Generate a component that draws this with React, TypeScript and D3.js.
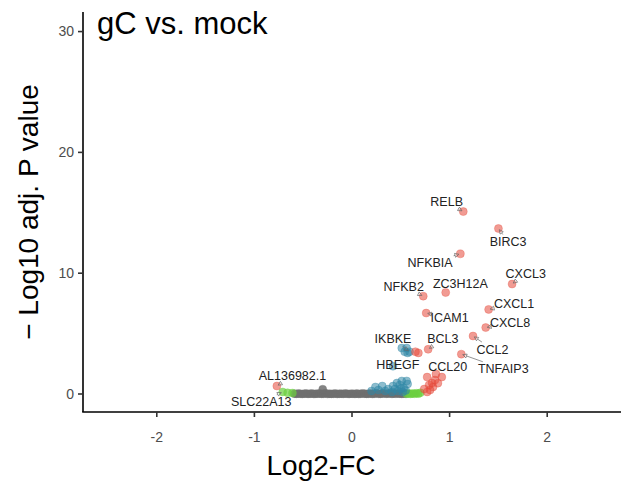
import React from "react";
import * as d3 from "d3";

// ---------- data ----------
const titleText = "gC vs. mock";
const xTicks = [-2, -1, 0, 1, 2];
const yTicks = [0, 10, 20, 30];

// not significant (gray)
const grayX = [-0.59,-0.57,-0.55,-0.53,-0.51,-0.49,-0.47,-0.45,-0.43,-0.41,-0.39,-0.37,-0.35,-0.33,-0.31,-0.29,-0.27,-0.25,-0.23,-0.21,-0.19,-0.17,-0.15,-0.13,-0.11,-0.09,-0.07,-0.05,-0.03,-0.01,0.01,0.03,0.05,0.07,0.09,0.11,0.13,0.15,0.17,0.19,0.21,0.23,0.25,0.27,0.29,0.31,0.33,0.35,0.37,0.39,0.41,0.43,0.45,0.47,0.49,0.51,0.53,0.55,-0.30];
const grayY = [0.03,0.01,0.04,0.02,0.0,0.03,0.05,0.01,0.02,0.04,0.0,0.02,0.03,0.05,0.01,0.02,0.06,0.0,0.03,0.01,0.02,0.04,0.0,0.02,0.03,0.01,0.05,0.02,0.0,0.03,0.02,0.01,0.04,0.0,0.02,0.05,0.03,0.01,0.02,0.04,0.0,0.03,0.06,0.02,0.01,0.04,0.05,0.02,0.03,0.06,0.01,0.04,0.02,0.05,0.03,0.01,0.04,0.02,0.40];

// fold-change only (green)
const greenX = [-0.66,-0.61,0.56,0.58,0.6,0.62,0.64,0.66,0.68,0.70];
const greenY = [0.1,0.08,0.02,0.05,0.01,0.04,0.02,0.06,0.03,0.1];

// p-value only (blue)
const blueX = [0.51,0.56,0.54,0.57,0.24,0.31,0.42,0.46,0.51,0.56,0.57,0.49,0.37,0.44,0.53,0.27,0.47,0.34,0.41,0.52,0.20,0.55,0.50];
const blueY = [3.8,3.8,3.5,3.4,0.58,0.66,0.66,0.91,1.08,1.08,0.83,0.75,0.41,0.41,0.5,0.33,0.25,0.25,0.17,0.17,0.25,0.3,0.45];

// significant (red)
const redX = [0.65,0.68,0.77,0.92,0.82,0.83,0.80,0.77,0.85,0.88,0.79,0.74];
const redY = [3.5,3.4,1.4,1.4,0.91,0.58,0.33,0.17,1.16,0.9,0.75,0.41];

// labelled genes
const geneNames = ["RELB","BIRC3","NFKBIA","CXCL3","ZC3H12A","NFKB2","CXCL1","ICAM1","CXCL8","CCL2","BCL3","TNFAIP3","CCL20","IKBKE","HBEGF","AL136982.1","SLC22A13"];
const geneX = [1.14,1.50,1.11,1.64,0.96,0.73,1.40,0.76,1.37,1.24,0.78,1.12,0.86,0.59,0.42,-0.77,-0.71];
const geneY = [15.1,13.7,11.6,9.1,8.4,8.1,7.0,6.7,5.5,4.8,3.7,3.3,1.65,3.5,2.3,0.66,0.17];
const geneGroup = ["red","red","red","red","red","red","red","red","red","red","red","red","red","blue","blue","red","green"];
// label anchor (text centre) in data units
const labelX = [0.97,1.60,0.80,1.78,1.11,0.53,1.66,1.00,1.62,1.44,0.93,1.55,0.98,0.42,0.47,-0.61,-0.93];
const labelY = [15.9,12.6,10.9,10.0,9.1,8.9,7.5,6.3,5.9,3.7,4.55,2.07,2.3,4.55,2.4,1.5,-0.66];

// ---------- layout ----------
const W = 621, H = 497;
const colors: Record<string, string> = { gray: "#6f6f6f", green: "#6BCF3F", blue: "#2F86A6", red: "#E5493A" };
const opac: Record<string, number> = { gray: 0.85, green: 0.7, blue: 0.55, red: 0.55 };

export default function App() {
  const x = d3.scaleLinear().domain([-2.756, 2.756]).range([83, 621]);
  const y = d3.scaleLinear().domain([-1.49, 31.62]).range([412, 12]);
  const r = 4;
  const font = "'Liberation Sans', Arial, sans-serif";

  const pts = (xs: number[], ys: number[], g: string) =>
    xs.map((v, i) => (
      <circle key={g + i} cx={x(v)} cy={y(ys[i])} r={r} fill={colors[g]} fillOpacity={opac[g]}
        stroke={colors[g]} strokeOpacity={0.6} strokeWidth={0.5} />
    ));

  const labelFs = 12.5;
  const labels = geneNames.map((name, i) => {
    const px = x(geneX[i]), py = y(geneY[i]);
    const lx = x(labelX[i]), ly = y(labelY[i]);
    const w = name.length * labelFs * 0.6, h = labelFs;
    const dx = px - lx, dy = py - ly;
    let t = 1;
    if (dx !== 0) t = Math.min(t, (w / 2 + 1) / Math.abs(dx));
    if (dy !== 0) t = Math.min(t, (h / 2 + 1) / Math.abs(dy));
    const sx = lx + dx * t, sy = ly + dy * t;
    const len = Math.hypot(px - sx, py - sy);
    let seg = null;
    if (len > 3) {
      const ux = (px - sx) / len, uy = (py - sy) / len;
      const ex = px - ux * 1.5, ey = py - uy * 1.5;
      const a = 4, b = 2;
      const bx = ex - ux * a, by = ey - uy * a;
      seg = (
        <g>
          <line x1={sx} y1={sy} x2={bx} y2={by} stroke="#666" strokeWidth={0.7} />
          <path d={`M${ex},${ey} L${bx - uy * b},${by + ux * b} L${bx + uy * b},${by - ux * b} Z`}
            fill="none" stroke="#666" strokeWidth={0.7} />
        </g>
      );
    }
    return (
      <g key={name}>
        {seg}
        <text x={lx} y={ly} dy="0.35em" textAnchor="middle" fontSize={labelFs} fill="#222" fontFamily={font}>{name}</text>
      </g>
    );
  });

  const gene = (g: string) => geneNames.map((_, i) => i).filter(i => geneGroup[i] === g);

  return (
    <svg width={W} height={H} style={{ position: "absolute", left: 0, top: 0, background: "#fff" }}>
      {pts(grayX, grayY, "gray")}
      {pts(greenX, greenY, "green")}
      {pts(gene("green").map(i => geneX[i]), gene("green").map(i => geneY[i]), "green")}
      {pts(blueX, blueY, "blue")}
      {pts(gene("blue").map(i => geneX[i]), gene("blue").map(i => geneY[i]), "blue")}
      {pts(redX, redY, "red")}
      {pts(gene("red").map(i => geneX[i]), gene("red").map(i => geneY[i]), "red")}
      {labels}

      <line x1={83} y1={12} x2={83} y2={412} stroke="#000" strokeWidth={1.6} />
      <line x1={82.2} y1={412} x2={621} y2={412} stroke="#000" strokeWidth={1.6} />
      {yTicks.map(t => (
        <g key={"y" + t}>
          <line x1={78} x2={83} y1={y(t)} y2={y(t)} stroke="#333" strokeWidth={1.6} />
          <text x={74} y={y(t)} dy="0.35em" textAnchor="end" fontSize={14} fill="#4d4d4d" fontFamily={font}>{t}</text>
        </g>
      ))}
      {xTicks.map(t => (
        <g key={"x" + t}>
          <line x1={x(t)} x2={x(t)} y1={412} y2={417} stroke="#333" strokeWidth={1.6} />
          <text x={x(t)} y={437} dy="0.35em" textAnchor="middle" fontSize={14} fill="#4d4d4d" fontFamily={font}>{t}</text>
        </g>
      ))}
      <text x={321} y={475} textAnchor="middle" fontSize={28} fill="#000" fontFamily={font}>Log2-FC</text>
      <text transform={`translate(38,${212}) rotate(-90)`} textAnchor="middle" fontSize={28} fill="#000" fontFamily={font}>− Log10 adj. P value</text>
      <text x={97} y={34} fontSize={31} fill="#000" fontFamily={font}>{titleText}</text>
    </svg>
  );
}
